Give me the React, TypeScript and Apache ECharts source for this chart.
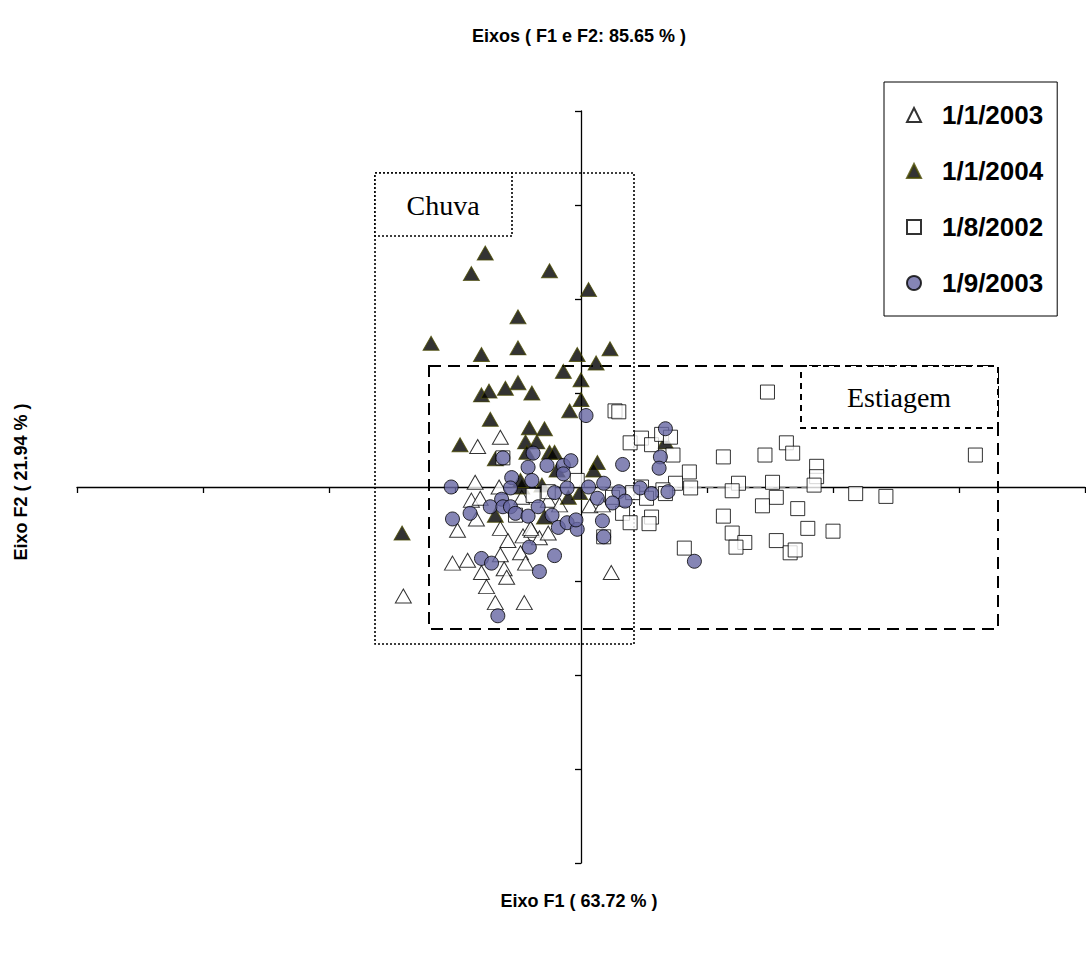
import React, { useEffect, useRef } from "react";
import * as echarts from "echarts";

// 1/1/2003 — open triangles [F1, F2]
const s2003jan: number[][] = [
  [-0.64, 0.53], [-0.82, 0.43], [-0.84, 0.05], [-0.65, 0.0], [-0.87, -0.14], [-0.8, -0.12],
  [-0.83, -0.34], [-0.98, -0.46], [-0.64, -0.44], [-0.58, -0.57], [-0.46, -0.52], [-0.39, -0.46],
  [-0.33, -0.54], [-0.26, -0.49], [-1.02, -0.81], [-0.9, -0.78], [-0.64, -0.72], [-0.48, -0.7],
  [-0.44, -0.81], [-0.79, -0.91], [-0.61, -0.87], [-0.59, -0.96], [-0.75, -1.06], [-0.68, -1.23],
  [-0.45, -1.23], [-1.41, -1.16], [0.24, -0.91], [0.07, -0.2], [-0.47, -0.11], [-0.4, -0.44],
  [0.17, -0.19], [-0.26, -0.14], [-0.17, -0.19],
];

// 1/1/2004 — filled triangles
const s2004jan: number[][] = [
  [-0.76, 2.49], [-0.87, 2.27], [-0.25, 2.3], [0.06, 2.1], [-0.5, 1.81], [-1.19, 1.53],
  [-0.79, 1.41], [-0.5, 1.48], [-0.03, 1.41], [0.23, 1.47], [0.12, 1.32], [-0.14, 1.23],
  [0.0, 1.14], [-0.79, 0.98], [-0.73, 1.02], [-0.6, 1.05], [-0.5, 1.11], [-0.39, 1.0],
  [0.0, 0.93], [-0.09, 0.81], [-0.72, 0.72], [-0.41, 0.63], [-0.29, 0.62], [-0.96, 0.45],
  [-0.44, 0.48], [-0.35, 0.48], [-0.25, 0.37], [-0.43, 0.37], [-0.68, 0.3], [0.13, 0.26],
  [0.1, 0.18], [-0.19, 0.18], [-0.31, 0.02], [-0.01, -0.06], [-0.1, -0.11], [-0.68, -0.3],
  [-0.29, -0.32], [-1.42, -0.49], [-0.47, 0.0], [0.67, 0.48], [-0.48, 0.07], [-0.21, 0.37],
];

// 1/8/2002 — open squares
const s2002aug: number[][] = [
  [0.27, 0.81], [0.3, 0.8], [1.48, 1.01], [0.39, 0.47], [0.48, 0.52], [0.56, 0.45],
  [0.64, 0.56], [0.71, 0.53], [0.73, 0.34], [1.13, 0.32], [1.46, 0.34], [1.63, 0.47],
  [1.68, 0.36], [1.87, 0.22], [1.87, 0.11], [1.85, 0.02], [0.86, 0.16], [0.75, 0.04],
  [0.87, -0.01], [0.48, 0.0], [0.52, -0.12], [0.65, -0.03], [0.67, -0.07], [1.25, 0.04],
  [1.2, -0.04], [1.52, 0.05], [1.55, -0.11], [1.44, -0.2], [1.72, -0.23], [0.33, -0.28],
  [0.39, -0.38], [0.56, -0.32], [0.54, -0.39], [1.13, -0.31], [1.2, -0.49], [1.3, -0.59],
  [1.23, -0.64], [1.55, -0.57], [1.66, -0.7], [1.7, -0.67], [1.8, -0.44], [2.0, -0.47],
  [0.82, -0.65], [0.18, -0.53], [2.18, -0.07], [2.42, -0.1], [3.13, 0.34], [-0.62, 0.31],
  [-0.38, -0.09], [-0.03, 0.07], [-0.52, -0.3], [-0.26, -0.05], [0.41, -0.06], [0.25, -0.11],
];

// 1/9/2003 — circles
const s2003sep: number[][] = [
  [0.04, 0.76], [-0.62, 0.31], [-0.38, 0.36], [-0.42, 0.21], [-0.27, 0.23], [-0.14, 0.23],
  [-0.08, 0.28], [-0.14, 0.14], [-0.55, 0.1], [-0.39, 0.07], [-0.56, -0.01], [0.33, 0.24],
  [-1.03, 0.0], [-0.21, -0.06], [-0.11, -0.01], [0.06, 0.0], [0.18, 0.04], [-0.63, -0.13],
  [-0.72, -0.21], [-0.62, -0.21], [-0.56, -0.21], [-0.52, -0.28], [-0.42, -0.31], [-0.34, -0.21],
  [-0.23, -0.3], [-0.88, -0.28], [-1.02, -0.34], [-0.18, -0.43], [-0.11, -0.38], [-0.03, -0.45],
  [-0.04, -0.35], [0.13, -0.12], [0.3, -0.05], [0.35, -0.15], [0.25, -0.17], [0.17, -0.36],
  [0.18, -0.53], [-0.41, -0.64], [-0.21, -0.73], [-0.79, -0.76], [-0.71, -0.81], [-0.33, -0.9],
  [-0.66, -1.37], [0.47, -0.01], [0.67, 0.62], [0.63, 0.32], [0.62, 0.2], [0.56, -0.07],
  [0.69, -0.05], [0.9, -0.79],
];

// faint grey segment drawn along the F1 axis (from 0.13 to 1.8 on F1)
const greySegment: number[][] = [[0.13, 0], [1.8, 0]];

const seriesNames = ["1/1/2003", "1/1/2004", "1/8/2002", "1/9/2003"];
const titleText = "Eixos ( F1 e F2: 85.65 % )";
const xName = "Eixo F1 ( 63.72 % )";
const yName = "Eixo F2 ( 21.94 % )";
const regionLabels = ["Chuva", "Estiagem"];

const SANS = "'Liberation Sans', Arial, sans-serif";
const SERIF = "'Liberation Serif', 'Times New Roman', serif";

export default function App() {
  const ref = useRef<HTMLDivElement>(null);

  useEffect(() => {
    if (!ref.current) return;
    const chart = echarts.init(ref.current, undefined, { renderer: "svg" });

    const axisCommon = {
      type: "value" as const,
      min: -4,
      max: 4,
      interval: 1,
      axisLine: { onZero: true, lineStyle: { color: "#000", width: 1.3 } },
      axisTick: { show: true, length: 6, lineStyle: { color: "#000", width: 1.3 } },
      axisLabel: { show: false },
      splitLine: { show: false },
    };

    chart.setOption({
      animation: false,
      backgroundColor: "#fff",
      title: {
        text: titleText,
        left: 574,
        top: 22,
        textAlign: "center",
        textStyle: { fontFamily: SANS, fontSize: 18, fontWeight: "bold", color: "#000" },
      },
      grid: { left: 77, top: 111, width: 1008, height: 752 },
      xAxis: { ...axisCommon },
      yAxis: { ...axisCommon },
      legend: {
        orient: "vertical",
        left: 884,
        top: 82,
        itemGap: 30,
        itemWidth: 14,
        itemHeight: 14,
        padding: [20, 14, 20, 22],
        borderColor: "#000",
        borderWidth: 1,
        textStyle: {
          fontFamily: SANS,
          fontSize: 26,
          fontWeight: "bold",
          color: "#000",
          padding: [0, 0, 0, 16],
        },
        data: [
          { name: seriesNames[0], icon: "triangle" },
          { name: seriesNames[1], icon: "triangle" },
          { name: seriesNames[2], icon: "rect" },
          { name: seriesNames[3], icon: "circle" },
        ],
      },
      graphic: [
        {
          type: "rect",
          shape: { x: 375, y: 173, width: 259, height: 471 },
          style: { fill: "none", stroke: "#000", lineWidth: 1.6, lineDash: [2, 2] },
        },
        {
          type: "rect",
          shape: { x: 375, y: 173, width: 137, height: 63 },
          style: { fill: "#fff", stroke: "#000", lineWidth: 1.6, lineDash: [2, 2] },
        },
        {
          type: "rect",
          shape: { x: 429, y: 366, width: 569, height: 263 },
          style: { fill: "none", stroke: "#000", lineWidth: 2, lineDash: [12, 7] },
        },
        {
          type: "rect",
          shape: { x: 801, y: 366, width: 197, height: 62 },
          style: { fill: "#fff", stroke: "#000", lineWidth: 2, lineDash: [6, 5] },
        },
        {
          type: "text",
          x: 443,
          y: 205,
          style: {
            text: regionLabels[0],
            font: `28px ${SERIF}`,
            fill: "#000",
            textAlign: "center",
            textVerticalAlign: "middle",
          },
        },
        {
          type: "text",
          x: 899,
          y: 397,
          style: {
            text: regionLabels[1],
            font: `28px ${SERIF}`,
            fill: "#000",
            textAlign: "center",
            textVerticalAlign: "middle",
          },
        },
        {
          type: "text",
          x: 579,
          y: 901,
          style: {
            text: xName,
            font: `bold 18px ${SANS}`,
            fill: "#000",
            textAlign: "center",
            textVerticalAlign: "middle",
          },
        },
        {
          type: "text",
          x: 21,
          y: 482,
          rotation: Math.PI / 2,
          style: {
            text: yName,
            font: `bold 18px ${SANS}`,
            fill: "#000",
            textAlign: "center",
            textVerticalAlign: "middle",
          },
        },
      ],
      series: [
        {
          name: "axis-grey",
          type: "line",
          data: greySegment,
          symbol: "none",
          silent: true,
          lineStyle: { color: "#b0b0b0", width: 1.4, type: [8, 4] },
          z: 1,
        },
        {
          name: seriesNames[0],
          type: "scatter",
          symbol: "triangle",
          symbolSize: [16, 14],
          data: s2003jan,
          itemStyle: { color: "#fff", borderColor: "#000", borderWidth: 1 },
          z: 2,
        },
        {
          name: seriesNames[1],
          type: "scatter",
          symbol: "triangle",
          symbolSize: [16, 14],
          data: s2004jan,
          itemStyle: { color: "#000", borderColor: "#4a4a00", borderWidth: 1 },
          z: 3,
        },
        {
          name: seriesNames[2],
          type: "scatter",
          symbol: "rect",
          symbolSize: 14,
          data: s2002aug,
          itemStyle: { color: "#fff", borderColor: "#000", borderWidth: 1 },
          z: 4,
        },
        {
          name: seriesNames[3],
          type: "scatter",
          symbol: "circle",
          symbolSize: 14,
          data: s2003sep,
          itemStyle: { color: "#6666a3", borderColor: "#000", borderWidth: 1 },
          z: 5,
        },
      ],
    });

    return () => chart.dispose();
  }, []);

  return (
    <div
      ref={ref}
      style={{ position: "absolute", left: 0, top: 0, width: 1086, height: 956 }}
    />
  );
}
